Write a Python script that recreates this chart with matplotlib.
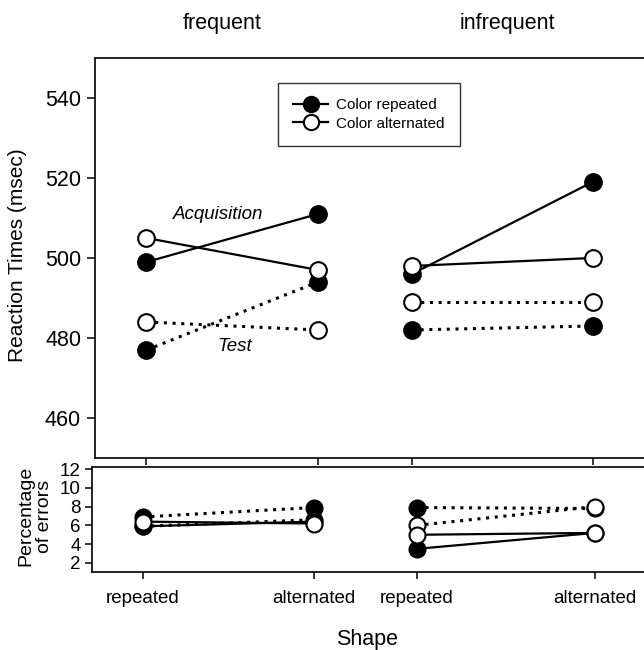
import matplotlib
matplotlib.use("Agg")
import matplotlib.pyplot as plt
from matplotlib.lines import Line2D

plt.rcParams['font.family'] = ['Liberation Sans', 'DejaVu Sans']

# conditions and shape categories
conditions = ['frequent', 'infrequent']
shape_labels = ['repeated', 'alternated', 'repeated', 'alternated']

# reaction times (msec), order: freq-rep, freq-alt, infreq-rep, infreq-alt
rt_acq_color_rep = [499, 511, 496, 519]
rt_acq_color_alt = [505, 497, 498, 500]
rt_test_color_rep = [477, 494, 482, 483]
rt_test_color_alt = [484, 482, 489, 489]

# percentage of errors
err_acq_color_rep = [5.9, 6.4, 3.5, 5.2]
err_acq_color_alt = [6.4, 6.2, 5.0, 5.2]
err_test_color_rep = [6.9, 7.9, 7.9, 7.8]
err_test_color_alt = [5.9, 6.6, 6.0, 8.0]

# horizontal slots of the four shape conditions (frequent pair, infrequent pair)
x_top = [0, 1, 1.548, 2.601]
x_bot = [0, 1, 1.602, 2.643]

fig = plt.figure(figsize=(6.44, 6.50), dpi=100)
ax = fig.add_axes([0.1475, 0.2954, 0.8525, 0.6154])
ax2 = fig.add_axes([0.1424, 0.1205, 0.8576, 0.1615])

filled = dict(marker='o', markersize=11.5, markerfacecolor='black',
              markeredgecolor='black', markeredgewidth=1.5, color='black')
hollow = dict(marker='o', markersize=11.5, markerfacecolor='white',
              markeredgecolor='black', markeredgewidth=1.5, color='black')
solid = dict(linestyle='-', linewidth=1.6)
dotted = dict(linestyle=(0, (1, 1.85)), linewidth=2.2)


def draw(a, xs, acq_rep, acq_alt, test_rep, test_alt, ms):
    # two separate segments per series: frequent and infrequent
    for i in (0, 2):
        sl = slice(i, i + 2)
        a.plot(xs[sl], test_rep[sl], **{**filled, **dotted, 'markersize': ms})
        a.plot(xs[sl], test_alt[sl], **{**hollow, **dotted, 'markersize': ms})
        a.plot(xs[sl], acq_rep[sl], **{**filled, **solid, 'markersize': ms})
        a.plot(xs[sl], acq_alt[sl], **{**hollow, **solid, 'markersize': ms})


draw(ax, x_top, rt_acq_color_rep, rt_acq_color_alt,
     rt_test_color_rep, rt_test_color_alt, 12)
draw(ax2, x_bot, err_acq_color_rep, err_acq_color_alt,
     err_test_color_rep, err_test_color_alt, 11.5)

# top panel
ax.set_xlim(-0.300, 2.901)
ax.set_ylim(450, 550)
ax.set_yticks([460, 480, 500, 520, 540])
ax.set_xticks(x_top)
ax.set_xticklabels([])
ax.tick_params(axis='y', labelsize=15.5, direction='out', length=6, width=1.1, pad=4)
ax.tick_params(axis='x', direction='out', length=5, width=1.1)
ax.spines['right'].set_visible(False)
for s in ('top', 'left', 'bottom'):
    ax.spines[s].set_linewidth(1.2)

ax.text(0.417, 510.8, 'Acquisition', style='italic', fontsize=13.5,
        ha='center', va='center')
ax.text(0.516, 477.8, 'Test', style='italic', fontsize=13.5,
        ha='center', va='center')

handles = [Line2D([], [], **{**filled, **solid, 'markersize': 11}),
           Line2D([], [], **{**hollow, **solid, 'markersize': 11})]
leg = ax.legend(handles, ['Color repeated', 'Color alternated'],
                loc='upper left', bbox_to_anchor=(0.333, 0.9375),
                fontsize=11, frameon=True, fancybox=False, handlelength=2.3,
                handletextpad=0.5, borderpad=1.0, labelspacing=0.3,
                borderaxespad=0)
leg.get_frame().set_edgecolor('black')
leg.get_frame().set_linewidth(1.0)

# bottom panel
ax2.set_xlim(-0.298, 2.93)
ax2.set_ylim(1.07, 12.25)
ax2.set_yticks([2, 4, 6, 8, 10, 12])
ax2.set_xticks(x_bot)
ax2.set_xticklabels(shape_labels)
ax2.tick_params(axis='y', labelsize=13.5, direction='out', length=5, width=1.1, pad=3)
ax2.tick_params(axis='x', labelsize=13.5, direction='out', length=5, width=1.1, pad=8)
ax2.spines['right'].set_visible(False)
for s in ('top', 'left', 'bottom'):
    ax2.spines[s].set_linewidth(1.2)

# labels and condition headings
fig.text(18 / 644, 1 - 255 / 650, 'Reaction Times (msec)', rotation=90,
         ha='center', va='center', fontsize=15)
fig.text(35 / 644, 1 - 516 / 650, 'Percentage\nof errors', rotation=90,
         ha='center', va='center', fontsize=14, linespacing=1.1)
fig.text(367 / 644, 1 - 639 / 650, 'Shape', ha='center', va='center',
         fontsize=15.5)
fig.text(222 / 644, 1 - 23 / 650, conditions[0], ha='center', va='center',
         fontsize=15.5)
fig.text(507 / 644, 1 - 23 / 650, conditions[1], ha='center', va='center',
         fontsize=15.5)

fig.savefig('out.png', dpi=100)
